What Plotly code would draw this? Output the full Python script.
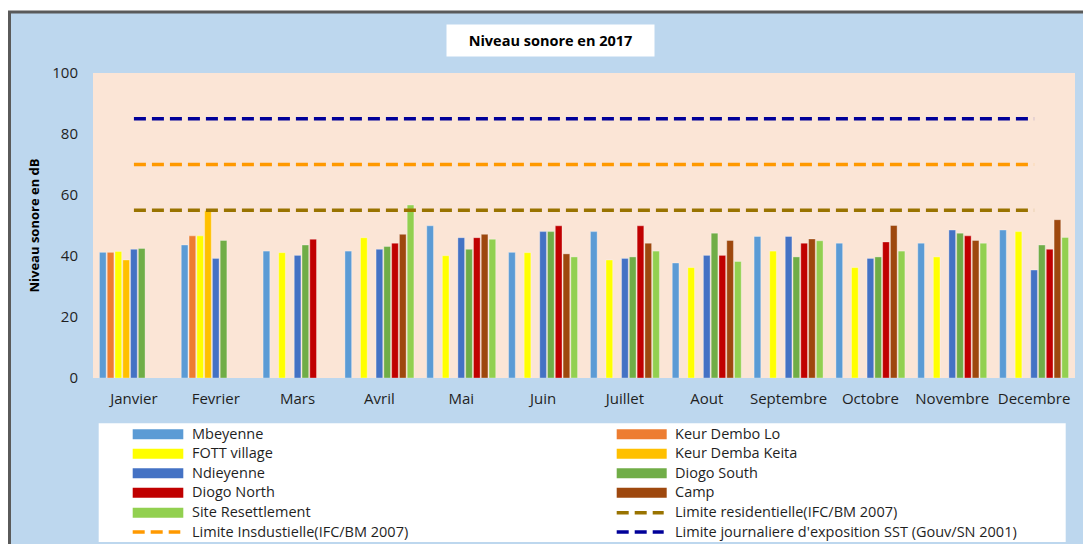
import plotly.graph_objects as go

# ---------------- data ----------------
months = ["Janvier", "Fevrier", "Mars", "Avril", "Mai", "Juin", "Juillet",
          "Aout", "Septembre", "Octobre", "Novembre", "Decembre"]

mbeyenne = [41.2, 43.6, 41.6, 41.6, 49.9, 41.2, 48.0, 37.7, 46.4, 44.2, 44.2, 48.5]
keur_dembo_lo = [41.2, 46.6, None, None, None, None, None, None, None, None, None, None]
fott_village = [41.5, 46.6, 41.1, 46.0, 40.1, 41.1, 38.7, 36.2, 41.6, 36.2, 39.7, 48.0]
keur_demba_keita = [38.7, 54.8, None, None, None, None, None, None, None, None, None, None]
ndieyenne = [42.2, 39.2, 40.2, 42.2, 46.0, 48.0, 39.2, 40.2, 46.4, 39.2, 48.5, 35.4]
diogo_south = [42.5, 45.1, 43.6, 43.1, 42.2, 48.0, 39.7, 47.5, 39.7, 39.7, 47.5, 43.6]
diogo_north = [None, None, 45.5, 44.2, 46.0, 49.9, 49.9, 40.2, 44.2, 44.6, 46.6, 42.2]
camp = [None, None, None, 47.1, 47.1, 40.7, 44.2, 45.1, 45.6, 50.0, 45.1, 51.9]
site_resettlement = [None, None, None, 56.7, 45.5, 39.7, 41.6, 38.2, 45.0, 41.6, 44.2, 46.1]

limite_residentielle = [55] * 12
limite_industrielle = [70] * 12
limite_journaliere = [85] * 12

bar_series = [
    ("Mbeyenne", mbeyenne, "#5B9BD5"),
    ("Keur Dembo Lo", keur_dembo_lo, "#ED7D31"),
    ("FOTT village", fott_village, "#FFFF00"),
    ("Keur Demba Keita", keur_demba_keita, "#FFC000"),
    ("Ndieyenne", ndieyenne, "#4472C4"),
    ("Diogo South", diogo_south, "#70AD47"),
    ("Diogo North", diogo_north, "#C00000"),
    ("Camp", camp, "#9E480E"),
    ("Site Resettlement", site_resettlement, "#92D050"),
]
line_series = [
    ("Limite residentielle(IFC/BM 2007)", limite_residentielle, "#997300"),
    ("Limite Insdustielle(IFC/BM 2007)", limite_industrielle, "#FF9900"),
    ("Limite journaliere d'exposition SST (Gouv/SN 2001)", limite_journaliere, "#000099"),
]

# ---------------- layout geometry (pixels) ----------------
W, H = 1083, 544
PL, PR, PT, PB = 93, 1075, 73, 378   # plot area edges
FONT = "Open Sans"
TXT = "#1F1F1F"


def px_x(px):
    return (px - PL) / (PR - PL)


def px_y(py):
    return (PB - py) / (PB - PT)


fig = go.Figure()
for name, vals, col in bar_series:
    fig.add_trace(go.Bar(
        x=months, y=vals, name=name, marker_color=col,
        marker_line=dict(color="rgba(255,255,255,0.55)", width=0.6),
        showlegend=False,
    ))
for name, vals, col in line_series:
    fig.add_trace(go.Scatter(
        x=months, y=vals, name=name, mode="lines",
        line=dict(color=col, width=3.5, dash="12px,6px"),
        showlegend=False,
    ))

shapes = []
# light blue chart frame with grey border
shapes.append(dict(type="rect", xref="paper", yref="paper", layer="below",
                   x0=px_x(9.5), x1=px_x(1110), y0=px_y(570), y1=px_y(12),
                   fillcolor="#BDD7EE", line=dict(color="#5A5A5A", width=3)))
# plot area background
shapes.append(dict(type="rect", xref="paper", yref="paper", layer="below",
                   x0=0, x1=1, y0=0, y1=1, fillcolor="#FBE5D6",
                   line=dict(width=0)))
# legend box
shapes.append(dict(type="rect", xref="paper", yref="paper", layer="below",
                   x0=px_x(98.7), x1=px_x(1065.7), y0=px_y(542), y1=px_y(423.3),
                   fillcolor="white", line=dict(width=0)))

annotations = []
# title
annotations.append(dict(text="<b>Niveau sonore en 2017</b>", xref="paper", yref="paper",
                        x=px_x(550), y=px_y(40.5), xanchor="center", yanchor="middle",
                        showarrow=False, bgcolor="white", width=205, height=29,
                        font=dict(family=FONT, size=14.5, color="black")))
# y-axis title
annotations.append(dict(text="<b>Niveau sonore en dB</b>", xref="paper", yref="paper",
                        x=px_x(33), y=0.5, xanchor="center", yanchor="middle",
                        textangle=-90, showarrow=False,
                        font=dict(family=FONT, size=13, color="black")))

# manual legend (two columns, row-major order)
entries = [(n, c, "bar") for n, _, c in bar_series] + [(n, c, "line") for n, _, c in line_series]
row_y = [433.3, 452.7, 472.3, 491.7, 511.7, 531.0]
col_sym = [(132.7, 183.3), (616.7, 666.7)]
col_txt = [190.0, 672.5]
for i, (name, col, kind) in enumerate(entries):
    r, c = divmod(i, 2)
    yc = row_y[r] + 1
    sx0, sx1 = col_sym[c]
    if kind == "bar":
        shapes.append(dict(type="rect", xref="paper", yref="paper",
                           x0=px_x(sx0), x1=px_x(sx1), y0=px_y(yc + 5), y1=px_y(yc - 5),
                           fillcolor=col, line=dict(width=0)))
    else:
        shapes.append(dict(type="line", xref="paper", yref="paper",
                           x0=px_x(sx0), x1=px_x(sx1 - 3), y0=px_y(yc), y1=px_y(yc),
                           line=dict(color=col, width=3.5, dash="12px,6px")))
    annotations.append(dict(text=name, xref="paper", yref="paper",
                            x=px_x(col_txt[c]), y=px_y(row_y[r]),
                            xanchor="left", yanchor="middle", showarrow=False,
                            font=dict(family=FONT, size=14.5, color=TXT)))

fig.update_layout(
    width=W, height=H,
    margin=dict(l=PL, r=W - PR, t=PT, b=H - PB, pad=0),
    paper_bgcolor="white", plot_bgcolor="rgba(0,0,0,0)",
    barmode="group", bargap=0.144, bargroupgap=0.14,
    font=dict(family=FONT, size=15, color=TXT),
    shapes=shapes, annotations=annotations,
    showlegend=False,
    xaxis=dict(showgrid=False, zeroline=False, showline=False, ticks="",
               ticklabelstandoff=10, tickfont=dict(size=15, color=TXT)),
    yaxis=dict(range=[0, 100], dtick=20, showgrid=False, zeroline=False,
               showline=False, ticks="", ticklabelstandoff=14,
               tickfont=dict(size=15, color=TXT)),
)

fig.write_html("out.html", config={"displayModeBar": False},
               post_script="document.body.style.margin='0px';document.body.style.overflow='hidden';")
